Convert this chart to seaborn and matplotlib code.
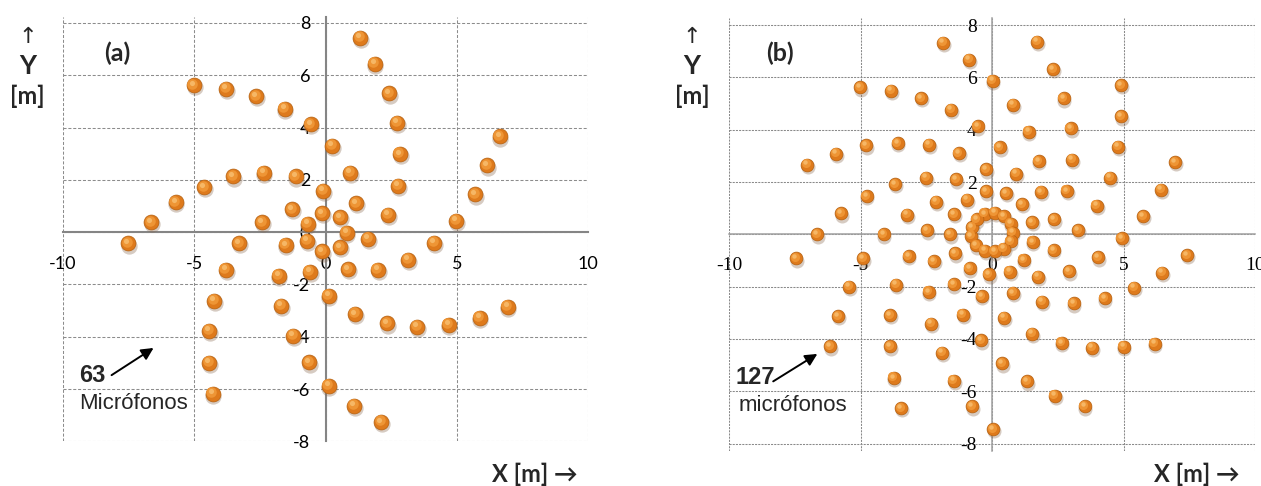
import matplotlib
matplotlib.use("Agg")
import matplotlib.pyplot as plt
import matplotlib.transforms as mtransforms
import pandas as pd
import seaborn as sns

# ---- microphone positions, array (a): 63 microphones ----
mic_a_x = [-5.02, -3.78, -2.65, -1.56, -0.57, 0.24,
           -4.62, -3.53, -2.36, -1.14, -0.09,
           -5.71, -6.65, -2.41, -1.26, -0.14, -0.68,
           -7.52, -3.28, -1.52, -0.69, -0.14,
           -3.80, -1.79, -0.60, 0.12,
           -4.24, -1.68, -4.43, -1.23, -4.43, -0.63, -4.30, 0.12,
           1.32, 1.87, 2.43, 2.73, 2.83, 2.76, 2.39,
           0.95, 1.17, 0.55, 0.80, 1.63,
           4.15, 4.99, 5.70, 6.17, 6.63,
           0.55, 3.16, 0.85, 1.99,
           1.14, 2.34, 3.49, 4.69, 5.87, 6.94,
           1.08, 2.12]
mic_a_y = [5.62, 5.49, 5.20, 4.72, 4.13, 3.30,
           1.72, 2.13, 2.28, 2.13, 1.59,
           1.15, 0.38, 0.38, 0.88, 0.73, 0.32,
           -0.43, -0.42, -0.49, -0.33, -0.74,
           -1.44, -1.66, -1.51, -2.43,
           -2.62, -2.81, -3.77, -3.96, -5.00, -4.98, -6.18, -5.87,
           7.44, 6.44, 5.31, 4.18, 2.99, 1.77, 0.66,
           2.27, 1.11, 0.57, -0.02, -0.25,
           -0.41, 0.44, 1.44, 2.55, 3.66,
           -0.57, -1.06, -1.42, -1.44,
           -3.13, -3.49, -3.62, -3.54, -3.27, -2.85,
           -6.64, -7.26]

# ---- microphone positions, array (b) ----
mic_b_x = [-1.86, -5.03, -3.84, -2.69, -1.57, -4.79, -3.60, -2.40, -1.27, -5.93,
           -7.03, -3.70, -2.52, -1.36, -4.78, -2.14, -5.75, -3.23, -1.45, -6.67,
           -4.13, -2.46, -1.61,
           1.72, -0.87, 2.32, 0.02, 4.92, 0.80, 2.72, 4.92, -0.55, 1.39,
           2.99, 0.29, 1.77, 3.05, 4.79, 6.97, -0.23, 0.92, 4.49, 6.44,
           -0.24, 0.52, 1.86, 2.84, -0.95, 1.14, 3.98, 1.53, 2.36, 5.74,
           3.26, 4.93,
           1.54, 2.34, 1.20, 4.02, 7.41, 0.67, 1.75, 2.93, 6.46, 5.41,
           0.80, 1.91, 3.10, 4.28, -1.42, -0.86, -0.13, -1.47, -0.40, -1.12,
           0.46, 1.51, -0.43, 2.64, 3.81, 5.00, 6.18, -1.90, 0.37, -1.46,
           1.34, 2.38, -0.76, 3.52, 0.04,
           -7.45, -4.91, -3.18, -2.22, -5.45, -3.64, -2.42, -5.87, -3.87, -2.31,
           -6.16, -3.89, -3.75, -3.45]
mic_b_y = [7.33, 5.62, 5.49, 5.21, 4.77, 3.40, 3.49, 3.42, 3.10, 3.09,
           2.66, 1.92, 2.17, 2.10, 1.46, 1.25, 0.80, 0.75, 0.77, 0.00,
           0.00, 0.15, 0.00,
           7.37, 6.67, 6.31, 5.87, 5.70, 4.95, 5.20, 4.51, 4.13, 3.93,
           4.05, 3.32, 2.80, 2.85, 3.35, 2.76, 2.48, 2.32, 2.17, 1.70,
           1.64, 1.57, 1.62, 1.66, 1.33, 1.15, 1.10, 0.47, 0.57, 0.69,
           0.16, -0.14,
           -0.29, -0.60, -0.98, -0.88, -0.79, -1.43, -1.62, -1.42, -1.47, -2.04,
           -2.24, -2.58, -2.64, -2.45, -0.73, -1.30, -1.53, -1.91, -2.36, -3.07,
           -3.19, -3.80, -4.05, -4.15, -4.34, -4.30, -4.18, -4.53, -4.93, -5.59,
           -5.62, -6.16, -6.58, -6.58, -7.45,
           -0.92, -0.92, -0.83, -1.02, -2.00, -1.92, -2.20, -3.13, -3.09, -3.41,
           -4.28, -4.28, -5.49, -6.64]
# inner ring of array (b)
ring_b_x = [-0.28, 0.10, 0.44, 0.70, 0.78, 0.70, 0.44, 0.09, -0.28, -0.61, -0.80, -0.76, -0.59]
ring_b_y = [0.78, 0.83, 0.70, 0.41, 0.07, -0.27, -0.55, -0.65, -0.63, -0.42, -0.06, 0.28, 0.57]

x_ticks = [-10, -5, 0, 5, 10]
y_ticks = [-8, -6, -4, -2, 0, 2, 4, 6, 8]

panel_titles = ["(a)", "(b)"]
count_labels = ["63", "127"]
mic_words = ["Micrófonos", "micrófonos"]

sns.set_theme(style="white")
plt.rcParams["font.family"] = ["Liberation Sans", "DejaVu Sans"]
plt.rcParams["lines.scale_dashes"] = False

W, H = 1261, 486
fig = plt.figure(figsize=(W / 100, H / 100), dpi=100)


def fx(px):
    return px / W


def fy(py):
    return 1 - py / H


ax_a = fig.add_axes([fx(63), fy(441.3), 525 / W, 424.6 / H])
ax_b = fig.add_axes([fx(729.3), fy(450.7), 525.7 / W, 432.7 / H])

df_a = pd.DataFrame({"x": mic_a_x, "y": mic_a_y})
df_b = pd.DataFrame({"x": mic_b_x + ring_b_x, "y": mic_b_y + ring_b_y})


def style_axes(ax, ylim, grid_color, dashes, zero_color, zero_lw, tick_font, tick_size, xpad, ypad):
    ax.set_xlim(-10, 10)
    ax.set_ylim(*ylim)
    ax.set_xticks(x_ticks)
    ax.set_yticks(y_ticks)
    ax.set_xticklabels([str(v) for v in x_ticks])
    ax.set_yticklabels([str(v) for v in y_ticks])
    ax.grid(True, color=grid_color, linestyle=(0, dashes), linewidth=0.75)
    ax.set_axisbelow(True)
    for ln in ax.get_xgridlines() + ax.get_ygridlines():
        ln.set_clip_on(False)
    for side in ("top", "right"):
        ax.spines[side].set_visible(False)
    ax.spines["left"].set_position(("data", 0))
    ax.spines["bottom"].set_position(("data", 0))
    for side in ("left", "bottom"):
        ax.spines[side].set_color(zero_color)
        ax.spines[side].set_linewidth(zero_lw)
        ax.spines[side].set_zorder(2.5)
    ax.tick_params(axis="both", length=0, colors="black")
    ax.tick_params(axis="x", pad=xpad)
    ax.tick_params(axis="y", pad=ypad)
    for lab in ax.get_xticklabels() + ax.get_yticklabels():
        lab.set_fontfamily(tick_font)
        lab.set_fontsize(tick_size)
    ax.set_xlabel("")
    ax.set_ylabel("")
    ax.patch.set_alpha(0)


def draw_spheres(ax, df, size):
    # soft drop shadow, orange body, lighter upper-left shading
    shadow = mtransforms.offset_copy(ax.transData, fig=fig, x=0.8, y=-2.2, units="dots")
    shade = mtransforms.offset_copy(ax.transData, fig=fig, x=-1.3, y=1.5, units="dots")
    gloss = mtransforms.offset_copy(ax.transData, fig=fig, x=-2.0, y=2.4, units="dots")
    sns.scatterplot(data=df, x="x", y="y", ax=ax, s=size * 1.2, color="#8a6a50",
                    alpha=0.35, linewidth=0, transform=shadow, zorder=3, legend=False)
    sns.scatterplot(data=df, x="x", y="y", ax=ax, s=size, color="#DE7A1C",
                    edgecolor="#B4600F", linewidth=0.5, zorder=4, legend=False)
    sns.scatterplot(data=df, x="x", y="y", ax=ax, s=size * 0.5, color="#EE9535",
                    linewidth=0, transform=shade, zorder=5, legend=False)
    sns.scatterplot(data=df, x="x", y="y", ax=ax, s=size * 0.12, color="#F6B766",
                    linewidth=0, transform=gloss, zorder=6, legend=False)


draw_spheres(ax_a, df_a, 115)
draw_spheres(ax_b, df_b, 85)

style_axes(ax_a, (-8, 8.24), "#8c8c8c", (2.2, 1.3), "#858585", 1.5, "Lato", 13, 17, 11)
style_axes(ax_b, (-8.27, 8.27), "#8a8a8a", (1.5, 0.8), "#a0a0a0", 1.1, "Liberation Serif", 14, 16, 11)

# axis captions and panel letters
for x0, xr in ((27.5, 578), (692, 1240)):
    fig.text(fx(x0), fy(37), "↑", ha="center", va="center", fontsize=16,
             family=["DejaVu Sans"])
    fig.text(fx(x0), fy(66), "Y", ha="center", va="center", fontsize=19,
             fontweight="bold", family=["Lato", "DejaVu Sans"])
    fig.text(fx(x0), fy(96), "[m]", ha="center", va="center", fontsize=17,
             fontweight="bold", family=["Lato", "DejaVu Sans"])
    fig.text(fx(xr), fy(474), "X [m] →", ha="right", va="center", fontsize=17,
             fontweight="bold", family=["Lato", "DejaVu Sans"])

fig.text(fx(117), fy(53), panel_titles[0], ha="center", va="center", fontsize=18,
         fontweight="bold", family=["Lato", "DejaVu Sans"])
fig.text(fx(780), fy(53), panel_titles[1], ha="center", va="center", fontsize=18,
         fontweight="bold", family=["Lato", "DejaVu Sans"])

# microphone count callouts
ax_a.text(-9.37, -5.47, count_labels[0], ha="left", va="center", fontsize=17, fontweight="bold")
ax_a.text(-9.37, -6.55, mic_words[0], ha="left", va="center", fontsize=16)
ax_a.annotate("", xy=(-6.55, -4.43), xytext=(-8.15, -5.47),
              arrowprops=dict(arrowstyle="-|>", color="black", lw=1.4, mutation_scale=18,
                              shrinkA=0, shrinkB=0))

ax_b.text(-9.76, -5.48, count_labels[1], ha="left", va="center", fontsize=17, fontweight="bold")
ax_b.text(-9.65, -6.55, mic_words[1], ha="left", va="center", fontsize=16)
ax_b.annotate("", xy=(-6.65, -4.57), xytext=(-8.33, -5.62),
              arrowprops=dict(arrowstyle="-|>", color="black", lw=1.4, mutation_scale=18,
                              shrinkA=0, shrinkB=0))

fig.savefig("out.png", dpi=100, facecolor="white")
